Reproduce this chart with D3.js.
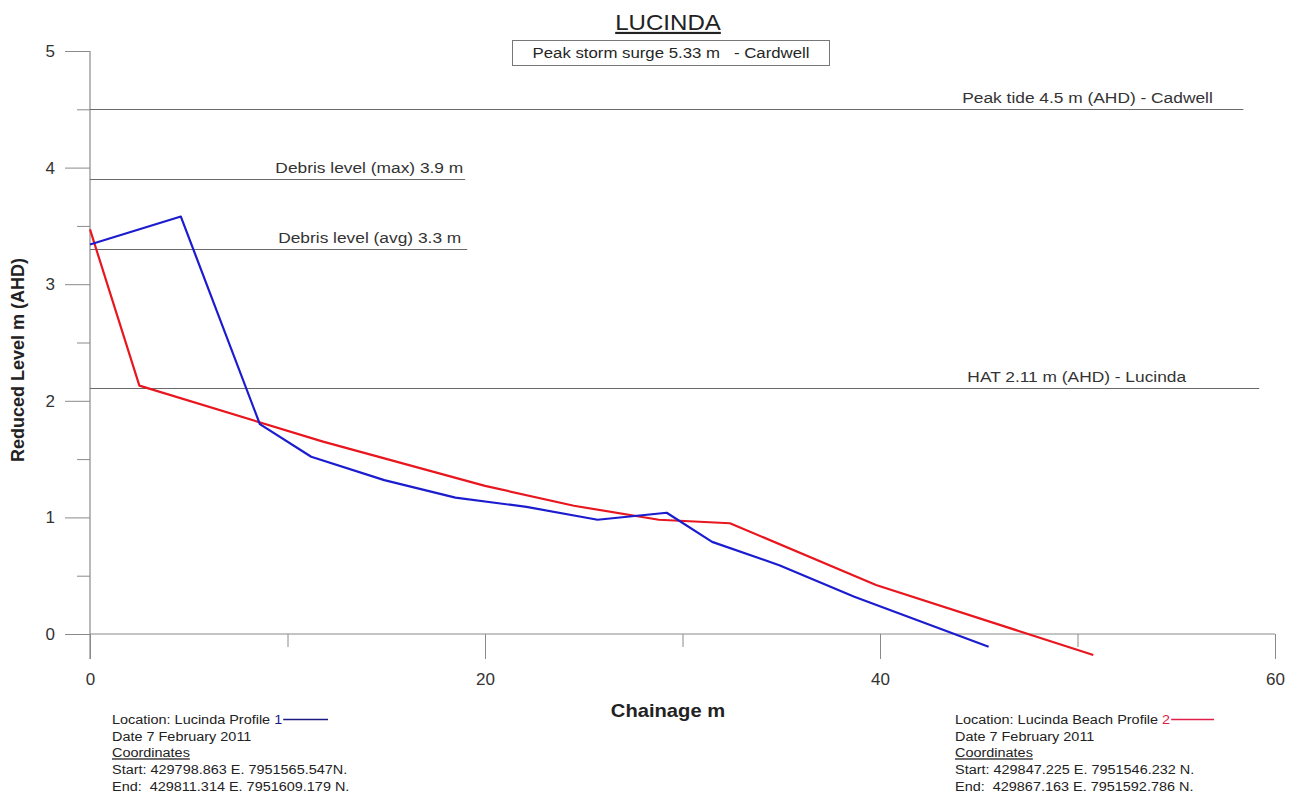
<!DOCTYPE html>
<html>
<head>
<meta charset="utf-8">
<script src="https://cdn.jsdelivr.net/npm/d3@7"></script>
<style>
  html, body { margin: 0; padding: 0; background: #fff; }
  svg { display: block; font-family: "Liberation Sans", Arial, sans-serif; }
</style>
</head>
<body>
<svg id="chart" width="1298" height="798"></svg>
<script>
// Beach profile 1 (blue): chainage (m) and reduced level (m AHD)
const profile1Chainage = [0, 4.6, 8.6, 11.2, 14.9, 18.5, 22.1, 25.7, 29.2, 31.5, 34.9, 38.7, 45.5];
const profile1Level    = [3.34, 3.58, 1.80, 1.52, 1.32, 1.17, 1.09, 0.98, 1.04, 0.79, 0.59, 0.32, -0.11];

// Beach profile 2 (red)
const profile2Chainage = [0, 2.5, 11.8, 20, 24.5, 28.8, 32.4, 39.8, 50.8];
const profile2Level    = [3.47, 2.13, 1.65, 1.27, 1.10, 0.98, 0.95, 0.42, -0.18];

// Horizontal reference levels: value, label, extent along chainage
const refLevels  = [4.5, 3.9, 3.3, 2.11];
const refLabels  = ["Peak tide 4.5 m (AHD) - Cadwell", "Debris level (max) 3.9 m", "Debris level (avg) 3.3 m", "HAT 2.11 m (AHD) - Lucinda"];
const refEndX    = [58.4, 19.0, 19.1, 59.2];
const refLabelX  = [56.85, 18.9, 18.8, 55.5];

const xTicks = [0, 20, 40, 60];
const xMinorTicks = [10, 30, 50];
const yTicks = [0, 1, 2, 3, 4, 5];
const yMinorTicks = [0.5, 1.5, 2.5, 3.5, 4.5];

const svg = d3.select("#chart");
const x = d3.scaleLinear().domain([0, 60]).range([90, 1275]);
const y = d3.scaleLinear().domain([0, 5]).range([634, 51]);

const axisColor = "#8a8a8a";
const refColor = "#6a6a6a";
const stretch = 1.12;   // slightly wide lettering

// Text helper: positioned group with horizontal stretch
function label(px, py, str, opts = {}) {
  const g = svg.append("g").attr("transform", `translate(${px},${py}) scale(${stretch},1)`);
  const t = g.append("text").attr("x", 0).attr("y", 0)
    .attr("text-anchor", opts.anchor || "start")
    .attr("font-size", opts.size || 15)
    .attr("font-weight", opts.weight || "normal")
    .attr("fill", opts.fill || "#262626")
    .attr("xml:space", "preserve");
  if (str !== null) t.text(str);
  if (opts.underline) t.attr("text-decoration", "underline");
  return t;
}

// Title
label(668, 30, "LUCINDA", { anchor: "middle", size: 21.5, fill: "#222", underline: true });

// Storm surge note in a box
svg.append("rect").attr("x", 512.5).attr("y", 40.5).attr("width", 317).attr("height", 25)
  .attr("fill", "#fff").attr("stroke", "#777").attr("stroke-width", 1);
label(671, 58, "Peak storm surge 5.33 m   - Cardwell", { anchor: "middle", size: 15 });

// Y axis: major ticks left of axis, minor ticks shorter
const yAxis = d3.axisLeft(y).tickValues(yTicks).tickSize(25).tickPadding(10).tickFormat(d3.format("d"));
const gy = svg.append("g").attr("transform", "translate(90,0)").call(yAxis);
gy.select(".domain").remove();
gy.selectAll(".tick line").attr("stroke", axisColor);
gy.selectAll(".tick text").attr("font-size", 17).attr("fill", "#333")
  .attr("font-family", "\"Liberation Sans\", Arial, sans-serif");
const yMinor = d3.axisLeft(y).tickValues(yMinorTicks).tickSize(13).tickFormat("");
const gym = svg.append("g").attr("transform", "translate(90,0)").call(yMinor);
gym.select(".domain").remove();
gym.selectAll(".tick line").attr("stroke", axisColor);

// X axis: ticks point downward
const xAxis = d3.axisBottom(x).tickValues(xTicks).tickSize(25).tickPadding(14).tickFormat(d3.format("d"));
const gx = svg.append("g").attr("transform", "translate(0,634)").call(xAxis);
gx.select(".domain").remove();
gx.selectAll(".tick line").attr("stroke", axisColor);
gx.selectAll(".tick text").attr("font-size", 17).attr("fill", "#333")
  .attr("font-family", "\"Liberation Sans\", Arial, sans-serif");
const xMinor = d3.axisBottom(x).tickValues(xMinorTicks).tickSize(13).tickFormat("");
const gxm = svg.append("g").attr("transform", "translate(0,634)").call(xMinor);
gxm.select(".domain").remove();
gxm.selectAll(".tick line").attr("stroke", axisColor);

// Axis lines
svg.append("line").attr("x1", x(0)).attr("x2", x(0)).attr("y1", y(5)).attr("y2", 659)
  .attr("stroke", axisColor).attr("stroke-width", 1.2);
svg.append("line").attr("x1", x(0)).attr("x2", x(60)).attr("y1", y(0)).attr("y2", y(0))
  .attr("stroke", axisColor).attr("stroke-width", 1.2);

// Axis titles
label(668, 717, "Chainage m", { anchor: "middle", size: 18, weight: "bold", fill: "#222" });
svg.append("text").attr("transform", "translate(24,360) rotate(-90)")
  .attr("text-anchor", "middle").attr("font-size", 18).attr("font-weight", "bold").attr("fill", "#222")
  .text("Reduced Level m (AHD)");

// Reference levels
refLevels.forEach((v, i) => {
  svg.append("line").attr("x1", x(0)).attr("x2", x(refEndX[i]))
    .attr("y1", Math.round(y(v)) + 0.5).attr("y2", Math.round(y(v)) + 0.5)
    .attr("stroke", refColor).attr("stroke-width", 1);
  label(x(refLabelX[i]), y(v) - 6, refLabels[i], { anchor: "end", size: 15.5, fill: "#333" });
});

// Profiles
const line = d3.line().x(d => x(d[0])).y(d => y(d[1]));
const p1 = profile1Chainage.map((c, i) => [c, profile1Level[i]]);
const p2 = profile2Chainage.map((c, i) => [c, profile2Level[i]]);
svg.append("path").datum(p2).attr("d", line).attr("fill", "none")
  .attr("stroke", "#e8161e").attr("stroke-width", 2.2).attr("stroke-linejoin", "round");
svg.append("path").datum(p1).attr("d", line).attr("fill", "none")
  .attr("stroke", "#1c1ccf").attr("stroke-width", 2.2).attr("stroke-linejoin", "round");

// Profile notes at the bottom; the key line starts right after the profile number
function note(x0, lines, key, keyColor, lineX2) {
  let firstLine = null;
  lines.forEach((t, i) => {
    const tx = label(x0, 724 + i * 16.7, null, { size: 12.9, fill: "#222", underline: i === 2 });
    if (i === 0) {
      tx.append("tspan").text(t);
      tx.append("tspan").attr("fill", keyColor).text(key);
      firstLine = tx;
    } else {
      tx.text(t);
    }
  });
  const w = firstLine.node().getComputedTextLength() * stretch;
  svg.append("line").attr("x1", x0 + w + 1).attr("x2", lineX2).attr("y1", 719.5).attr("y2", 719.5)
    .attr("stroke", keyColor).attr("stroke-width", 1.5);
}
note(112, ["Location: Lucinda Profile ", "Date 7 February 2011", "Coordinates",
  "Start: 429798.863 E. 7951565.547N.", "End:  429811.314 E. 7951609.179 N."],
  "1", "#1a1a80", 328);
note(955, ["Location: Lucinda Beach Profile ", "Date 7 February 2011", "Coordinates",
  "Start: 429847.225 E. 7951546.232 N.", "End:  429867.163 E. 7951592.786 N."],
  "2", "#e0204a", 1214);
</script>
</body>
</html>
